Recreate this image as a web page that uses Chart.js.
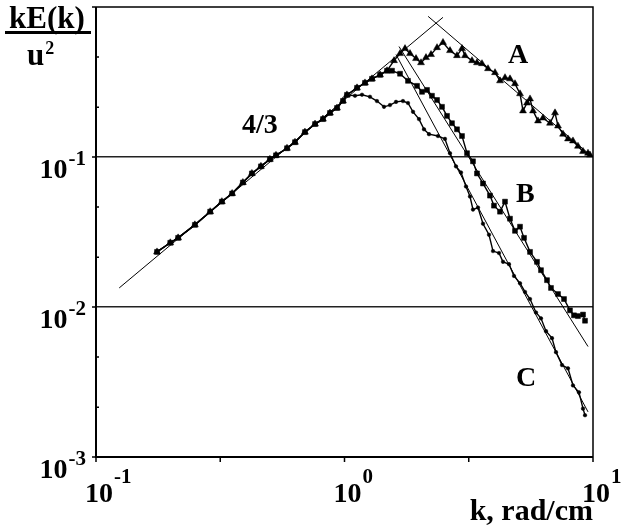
<!DOCTYPE html>
<html>
<head>
<meta charset="utf-8">
<script src="https://cdn.jsdelivr.net/npm/chart.js@4.4.1/dist/chart.umd.min.js"></script>
<style>
  html, body { margin: 0; padding: 0; background: #fff; }
  #wrap { width: 629px; height: 528px; }
</style>
</head>
<body>
<div id="wrap"><canvas id="chart" width="629" height="528"></canvas></div>
<script>
// low-k part, all three runs sit on it
var riseK = [0.176, 0.199, 0.214, 0.250, 0.288, 0.321, 0.353, 0.390, 0.424, 0.461, 0.501, 0.530, 0.587, 0.632, 0.693, 0.761, 0.819, 0.874, 0.933, 0.986, 1.023];
var riseE = [0.0233, 0.0268, 0.0289, 0.0353, 0.0432, 0.0504, 0.0571, 0.0676, 0.0777, 0.0866, 0.0965, 0.1026, 0.1144, 0.1255, 0.1465, 0.1658, 0.179, 0.1965, 0.2122, 0.2364, 0.2595];
// A and B keep rising a little further
var abK = [1.123, 1.209, 1.290, 1.390, 1.483];
var abE = [0.289, 0.312, 0.332, 0.353, 0.376];

var aK = [1.582, 1.673, 1.752, 1.835, 1.940, 2.032, 2.128, 2.229, 2.357, 2.491, 2.658, 2.836, 2.971, 3.054, 3.259, 3.413, 3.575, 3.780, 4.034, 4.225, 4.425, 4.634, 4.854, 5.085, 5.228, 5.426, 5.579, 5.736, 6.008, 6.292, 6.714, 7.033, 7.231, 7.575, 7.932, 8.307, 8.700, 9.116, 9.548, 9.725];
var aE = [0.439, 0.489, 0.528, 0.489, 0.453, 0.425, 0.460, 0.482, 0.536, 0.580, 0.512, 0.474, 0.528, 0.474, 0.439, 0.425, 0.419, 0.388, 0.365, 0.322, 0.338, 0.332, 0.308, 0.264, 0.203, 0.229, 0.244, 0.203, 0.174, 0.182, 0.168, 0.197, 0.161, 0.142, 0.132, 0.128, 0.118, 0.109, 0.106, 0.103];

var bK = [1.553, 1.673, 1.801, 1.958, 2.051, 2.148, 2.249, 2.357, 2.468, 2.585, 2.707, 2.836, 2.971, 3.112, 3.289, 3.413, 3.608, 3.850, 3.995, 4.225, 4.425, 4.634, 4.854, 5.085, 5.277, 5.579, 5.951, 6.176, 6.530, 6.776, 7.231, 7.645, 8.079, 8.384, 8.700, 9.116, 9.287];
var bE = [0.376, 0.359, 0.322, 0.298, 0.272, 0.280, 0.256, 0.240, 0.216, 0.188, 0.168, 0.153, 0.138, 0.106, 0.0936, 0.0777, 0.0666, 0.0553, 0.0474, 0.0432, 0.0504, 0.0388, 0.0322, 0.0343, 0.0289, 0.0233, 0.0200, 0.0176, 0.0151, 0.0134, 0.0122, 0.0113, 0.0095, 0.0088, 0.0087, 0.0089, 0.0081];

var cK = [1.102, 1.176, 1.266, 1.351, 1.442, 1.524, 1.612, 1.719, 1.801, 1.887, 1.994, 2.089, 2.188, 2.378, 2.537, 2.658, 2.810, 2.943, 3.083, 3.199, 3.289, 3.445, 3.608, 3.815, 3.959, 4.185, 4.344, 4.592, 4.809, 5.085, 5.326, 5.579, 5.896, 6.176, 6.471, 6.839, 7.098, 7.504, 7.932, 8.307, 8.782, 9.116, 9.287];
var cE = [0.256, 0.260, 0.252, 0.236, 0.216, 0.222, 0.233, 0.236, 0.229, 0.200, 0.179, 0.153, 0.142, 0.138, 0.132, 0.106, 0.0866, 0.0789, 0.0636, 0.0545, 0.0446, 0.0460, 0.0359, 0.0303, 0.0236, 0.0229, 0.0200, 0.0193, 0.0161, 0.0144, 0.0126, 0.0113, 0.0092, 0.0084, 0.0069, 0.0062, 0.0050, 0.0041, 0.0039, 0.0030, 0.0027, 0.0021, 0.0019];

// straight fits (end points)
var fit43K = [0.124, 2.49];
var fit43E = [0.0134, 0.853];
var fitAK = [2.17, 9.55];
var fitAE = [0.866, 0.106];
var fitBK = [1.657, 9.55];
var fitBE = [0.545, 0.00545];
var fitCK = [1.612, 9.55];
var fitCE = [0.482, 0.0020];

// axes
var xTickVals = [0.1, 0.3162, 1, 3.162, 10];
var xLabelVals = [0.1, 1, 10];
var xLabelExp = ['-1', '0', '1'];
var yMajorVals = [0.001, 0.01, 0.1, 1];
var yMinorVals = [0.00215, 0.00464, 0.0215, 0.0464, 0.215, 0.464];
var yLabelVals = [0.001, 0.01, 0.1];
var yLabelExp = ['-3', '-2', '-1'];
var yGridVals = [0.01, 0.1];

// curve notes
var noteText = ['4/3', 'A', 'B', 'C'];
var noteK = [0.387, 4.55, 4.90, 4.90];
var noteE = [0.144, 0.425, 0.0504, 0.00298];

function pts(ks, es) {
	var out = [];
	for (var i = 0; i < ks.length; i++) out.push({x: ks[i], y: es[i]});
	return out;
}

var FONT = '"Liberation Serif", "Times New Roman", serif';
function txt(ctx, s, x, y, size, align) {
	ctx.font = 'bold ' + size + 'px ' + FONT;
	ctx.textAlign = align || 'left';
	ctx.textBaseline = 'alphabetic';
	ctx.fillText(s, x, y);
	return ctx.measureText(s).width;
}

var decor = {
	id: 'decor',
	afterDraw: function (chart) {
		var ctx = chart.ctx;
		var a = chart.chartArea;
		var xs = chart.scales.x, ys = chart.scales.y;
		ctx.save();
		ctx.strokeStyle = '#000';
		ctx.fillStyle = '#000';

		// frame
		ctx.lineWidth = 1.5;
		ctx.beginPath();
		ctx.moveTo(a.left, a.top); ctx.lineTo(a.right, a.top); ctx.lineTo(a.right, a.bottom);
		ctx.stroke();
		ctx.lineWidth = 2;
		ctx.beginPath();
		ctx.moveTo(a.left, a.top); ctx.lineTo(a.left, a.bottom); ctx.lineTo(a.right, a.bottom);
		ctx.stroke();

		// tick marks
		ctx.lineWidth = 1.5;
		ctx.beginPath();
		xTickVals.forEach(function (v) {
			var p = xs.getPixelForValue(v);
			ctx.moveTo(p, a.bottom); ctx.lineTo(p, a.bottom + 5);
		});
		yMajorVals.forEach(function (v) {
			var p = ys.getPixelForValue(v);
			ctx.moveTo(a.left - 4, p); ctx.lineTo(a.left, p);
		});
		yMinorVals.forEach(function (v) {
			var p = ys.getPixelForValue(v);
			ctx.moveTo(a.left, p); ctx.lineTo(a.left + 3, p);
		});
		ctx.stroke();

		// y labels 10^n
		yLabelVals.forEach(function (v, i) {
			var p = ys.getPixelForValue(v);
			var sw = txt(ctx, yLabelExp[i], a.left - 10, p + 8, 21, 'right');
			txt(ctx, '10', a.left - 10 - sw - 1, p + 21, 28, 'right');
		});
		// x labels
		xLabelVals.forEach(function (v, i) {
			var p = xs.getPixelForValue(v);
			var w = txt(ctx, '10', p - 11, a.bottom + 45, 28, 'left');
			txt(ctx, xLabelExp[i], p - 11 + w + 1, a.bottom + 26, 21, 'left');
		});
		txt(ctx, 'k, rad/cm', a.right, 520, 30, 'right');

		// y title: kE(k) over u^2
		txt(ctx, 'kE(k)', 9, 28, 31, 'left');
		ctx.lineWidth = 3;
		ctx.beginPath();
		ctx.moveTo(5, 32.5); ctx.lineTo(91, 32.5);
		ctx.stroke();
		var uw = txt(ctx, 'u', 27, 65, 31, 'left');
		txt(ctx, '2', 27 + uw + 1, 54, 18, 'left');

		// curve notes
		noteText.forEach(function (s, i) {
			txt(ctx, s, xs.getPixelForValue(noteK[i]), ys.getPixelForValue(noteE[i]), 28, 'left');
		});
		ctx.restore();
	}
};

function runSet(data, style, r) {
	return {
		data: data,
		showLine: true,
		borderColor: '#000',
		borderWidth: 1.4,
		pointStyle: style,
		pointRadius: r,
		pointBackgroundColor: '#000',
		pointBorderColor: '#000',
		pointBorderWidth: 0.5
	};
}
function fitSet(data) {
	return { data: data, showLine: true, borderColor: '#000', borderWidth: 1, pointRadius: 0 };
}

var ctx = document.getElementById('chart').getContext('2d');
var chart = new Chart(ctx, {
	type: 'scatter',
	data: {
		datasets: [
			fitSet(pts(fit43K, fit43E)),
			fitSet(pts(fitAK, fitAE)),
			fitSet(pts(fitBK, fitBE)),
			fitSet(pts(fitCK, fitCE)),
			runSet(pts(riseK.concat(abK, aK), riseE.concat(abE, aE)), 'triangle', 4),
			runSet(pts(riseK.concat(abK, bK), riseE.concat(abE, bE)), 'rect', 3.5),
			runSet(pts(riseK.concat(cK), riseE.concat(cE)), 'circle', 1.8)
		]
	},
	options: {
		responsive: false,
		animation: false,
		devicePixelRatio: 1,
		layout: { padding: { left: 0, top: 7, right: 36, bottom: 0 } },
		plugins: { legend: { display: false }, tooltip: { enabled: false } },
		scales: {
			x: {
				type: 'logarithmic',
				min: 0.1, max: 10,
				grid: { display: false },
				border: { display: false },
				ticks: { display: false },
				afterFit: function (s) { s.height = 71; }
			},
			y: {
				type: 'logarithmic',
				min: 0.001, max: 1,
				afterBuildTicks: function (s) {
					s.ticks = yGridVals.map(function (v) { return {value: v}; });
				},
				grid: { color: '#222', lineWidth: 1.6, drawTicks: false },
				border: { display: false },
				ticks: { display: false },
				afterFit: function (s) { s.width = 96; }
			}
		}
	},
	plugins: [decor]
});
</script>
</body>
</html>
